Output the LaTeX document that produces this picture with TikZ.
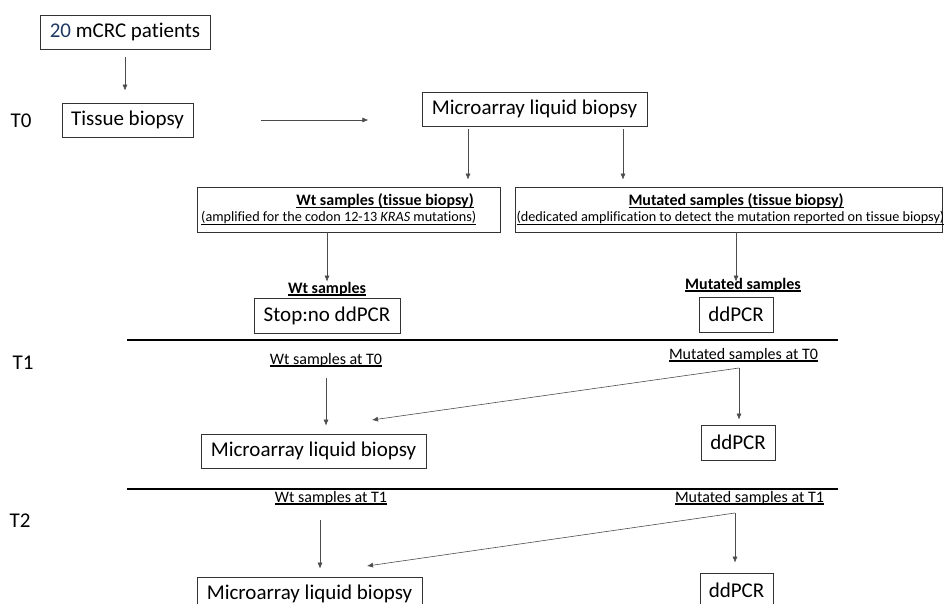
\documentclass[tikz,border=0pt]{standalone}
\usepackage{fontspec}
\setmainfont{Carlito}[Ligatures=NoCommon]
\usetikzlibrary{arrows.meta}
\definecolor{navyc}{RGB}{31,56,100}
\newcommand\myul[2][1.3pt]{{\setbox0\hbox{#2}\rlap{\rule[-2.4pt]{\wd0}{#1}}\box0}}
\begin{document}
\begin{tikzpicture}[x=1pt,y=-1pt,
  box/.style={draw=black!80, line width=0.75pt, minimum height=34pt, inner sep=0pt,
    font=\fontsize{21}{25}\selectfont},
  frame/.style={draw=black!80, line width=0.75pt, inner sep=0pt},
  big/.style={inner sep=0pt, font=\fontsize{21}{25}\selectfont},
  ttl/.style={inner sep=0pt, font=\fontsize{16}{19}\selectfont\bfseries},
  sub/.style={inner sep=0pt, font=\fontsize{14.2}{17}\selectfont},
  small/.style={inner sep=0pt, font=\fontsize{16}{19}\selectfont},
  arr/.style={draw=black!70, line width=0.6pt, -{Latex[length=6pt,width=5pt]}},
  sepline/.style={draw=black, line width=1.2pt}]
\useasboundingbox (0,0) rectangle (945,604);

% ---- T0 ----
\node[box, minimum width=170pt] (pat) at (125,32) {\textcolor{navyc}{20} mCRC patients};
\node[box, minimum width=131pt] (tis) at (127.5,120) {Tissue biopsy};
\node[big] (t0) at (21,121) {T0};
\draw[arr, shorten <=8pt, shorten >=12pt] (pat.south) -- (pat.south |- tis.north);
\draw[arr] ([xshift=68pt]tis.east) -- ([xshift=175pt]tis.east);

\node[box, minimum width=225pt] (mic0) at (534.5,109) {Microarray liquid biopsy};

\node[frame, minimum width=303pt, minimum height=45pt] (wtb) at (348.5,209.5) {};
\node[frame, minimum width=427pt, minimum height=45pt] (mub) at (728.5,209.5) {};
\node[ttl] (wtt) at (385,201) {\myul[1.5pt]{Wt samples (tissue biopsy)}};
\node[sub, anchor=west] (wts) at (201,218) {\myul[0.8pt]{(amplified for the codon 12-13 \textit{KRAS} mutations)}};
\node[ttl] (mut) at (736,201) {\myul[1.5pt]{Mutated samples (tissue biopsy)}};
\node[sub] (mus) at (730.5,218) {\myul[0.8pt]{(dedicated amplification to detect the mutation reported on tissue biopsy)}};

\draw[arr, shorten <=3pt, shorten >=7pt] (468,0 |- mic0.south) -- (468,0 |- wtb.north);
\draw[arr, shorten <=3pt, shorten >=7pt] (623,0 |- mic0.south) -- (623,0 |- mub.north);

\node[ttl] (wtl) at (327,289) {\myul[1.5pt]{Wt samples}};
\node[box, minimum width=146pt, minimum height=35pt] (stop) at (327,315.5) {Stop:no ddPCR};
\draw[arr, shorten >=16pt] (327,0 |- wtb.south) -- (327,0 |- stop.north);

\node[ttl] (mul) at (743,285) {\myul[1.5pt]{Mutated samples}};
\node[box, minimum width=74pt, minimum height=35pt] (dd0) at (736,314.5) {ddPCR};
\draw[arr, shorten >=15pt] (736,0 |- mub.south) -- (736,0 |- dd0.north);

% ---- separators ----
\coordinate (s1a) at (127,340); \coordinate (s1b) at (838,340);
\coordinate (s2a) at (127,489); \coordinate (s2b) at (838,489);
\draw[sepline] (s1a) -- (s1b);
\draw[sepline] (s2a) -- (s2b);

% ---- T1 ----
\node[big] (t1) at (23,363) {T1};
\node[small] (wt0) at (326,360) {\myul{Wt samples at T0}};
\node[small] (mu0) at (743.5,355) {\myul{Mutated samples at T0}};
\node[box, minimum width=225pt] (mic1) at (313.5,451) {Microarray liquid biopsy};
\node[box, minimum width=74pt, minimum height=35pt] (dd1) at (738,442.5) {ddPCR};
\coordinate (m0) at (739,368);
\coordinate (tip1) at (372,420);
\draw[arr, shorten >=8pt] (326,378) -- (326,0 |- mic1.north);
\draw[arr] (m0) -- (tip1);
\draw[arr, shorten >=5pt] (m0) -- (m0 |- dd1.north);

% ---- T2 ----
\node[big] (t2) at (20,521) {T2};
\node[small] (wt1) at (331,498) {\myul{Wt samples at T1}};
\node[small] (mu1) at (749.5,498) {\myul{Mutated samples at T1}};
\node[box, minimum width=225pt] (mic2) at (309.5,594) {Microarray liquid biopsy};
\node[box, minimum width=73pt, minimum height=35pt] (dd2) at (736.5,590.5) {ddPCR};
\coordinate (m1) at (735,513);
\coordinate (tip2) at (367,566);
\draw[arr, shorten >=8pt] (320,520) -- (320,0 |- mic2.north);
\draw[arr] (m1) -- (tip2);
\draw[arr, shorten >=10pt] (m1) -- (m1 |- dd2.north);
\end{tikzpicture}
\end{document}
